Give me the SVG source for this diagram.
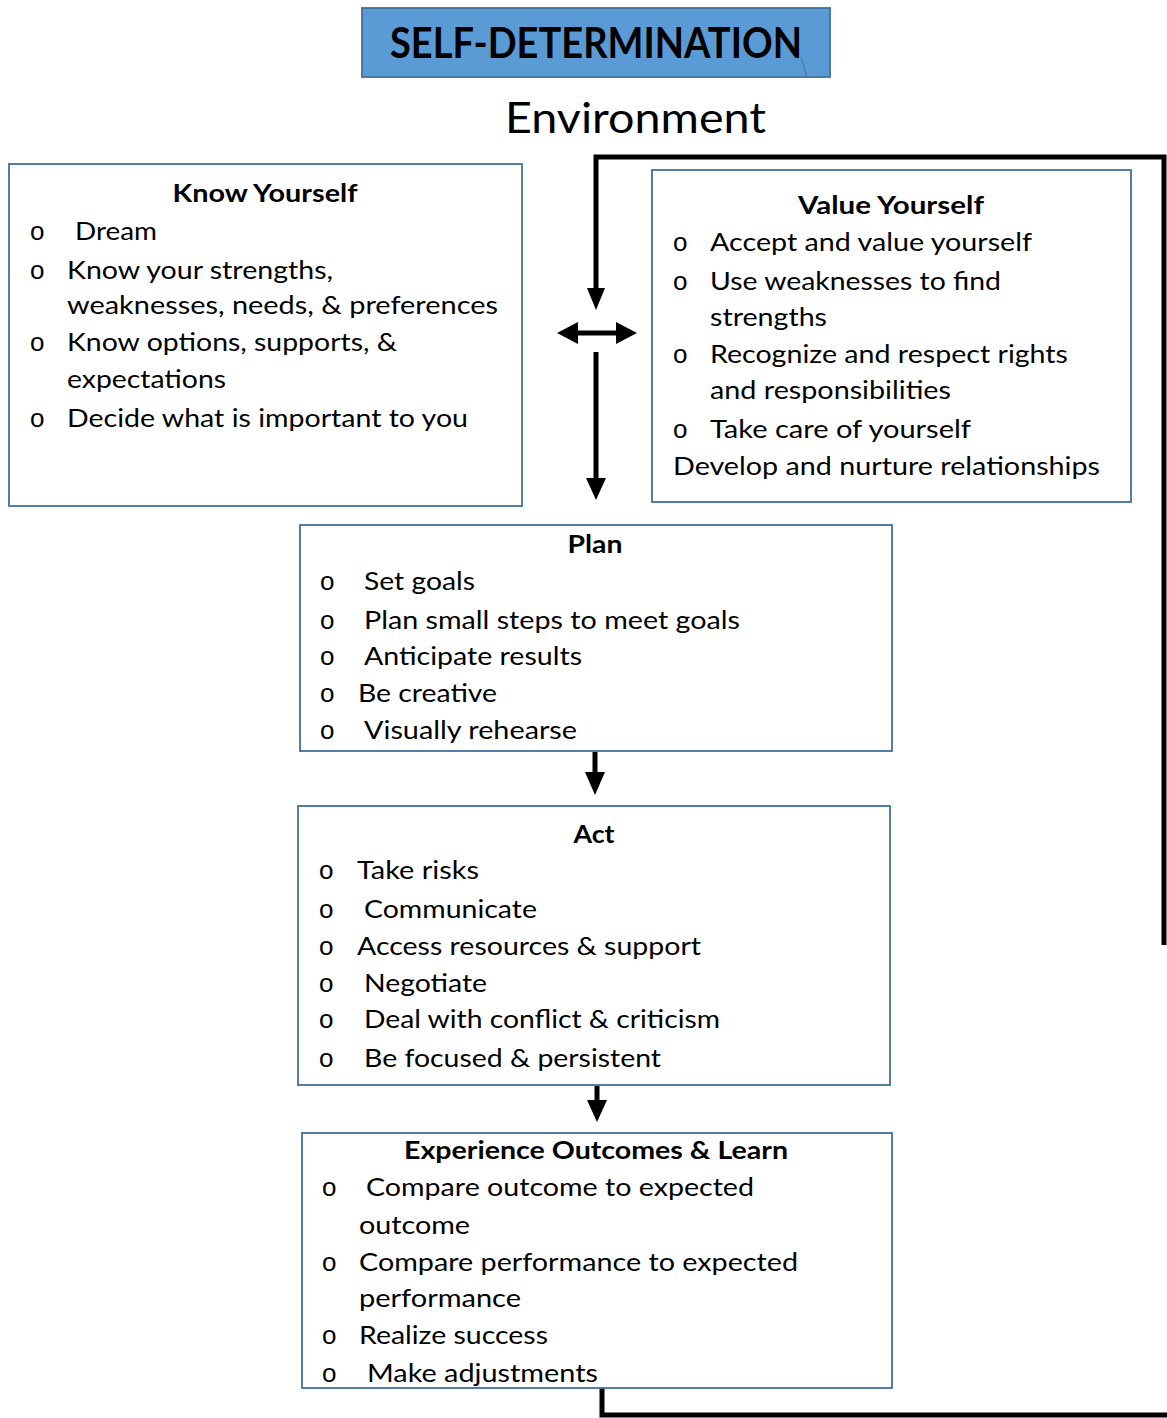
<svg xmlns="http://www.w3.org/2000/svg" width="1167" height="1418" viewBox="0 0 1167 1418">
<style>
.box{fill:#fff;stroke:#41719c;stroke-width:1.8}
.t{font-family:Lato,"Open Sans","Liberation Sans",sans-serif;font-size:25px;fill:#000}
.h{font-family:Lato,"Open Sans","Liberation Sans",sans-serif;font-size:25px;font-weight:bold;fill:#000;text-anchor:middle}
.b{font-family:"Liberation Sans",sans-serif;font-size:26px;fill:#000}
.ln{stroke:#000;stroke-width:5;fill:none}
</style>
<rect width="1167" height="1418" fill="#fff"/>

<g id="title">
<rect x="362" y="8" width="468" height="69" fill="#5b9bd5" stroke="#41719c" stroke-width="1.8"/>
<text x="390" y="58" font-family="Lato,'Open Sans','Liberation Sans',sans-serif" font-size="42" font-weight="bold" textLength="412" lengthAdjust="spacingAndGlyphs">SELF-DETERMINATION</text>
<line x1="801" y1="57" x2="807" y2="77" stroke="#41719c" stroke-width="1"/>
</g>

<g id="environment">
<text x="505" y="133" font-family="Lato,'Open Sans','Liberation Sans',sans-serif" font-size="42" textLength="261" lengthAdjust="spacingAndGlyphs">Environment</text>
</g>

<g id="connectors">
<polyline class="ln" points="1164,945 1164,157 596,157 596,290"/>
<path d="M587,288 L605,288 L596,310 z" fill="#000"/>
<line class="ln" x1="576" y1="333" x2="618" y2="333"/>
<path d="M578,322 L557,333 L578,344 z" fill="#000"/>
<path d="M616,322 L637,333 L616,344 z" fill="#000"/>
<line class="ln" x1="596" y1="352" x2="596" y2="480"/>
<path d="M586,478 L606,478 L596,500 z" fill="#000"/>
<line class="ln" x1="595" y1="752" x2="595" y2="774"/>
<path d="M585,772 L605,772 L595,795 z" fill="#000"/>
<line class="ln" x1="597" y1="1086" x2="597" y2="1102"/>
<path d="M587,1100 L607,1100 L597,1122 z" fill="#000"/>
<polyline class="ln" points="602,1388 602,1415 1167,1415"/>
</g>

<g id="know-yourself">
<rect class="box" x="9" y="164" width="513" height="342"/>
<text class="h" x="265" y="202" textLength="185" lengthAdjust="spacingAndGlyphs">Know Yourself</text>
<text class="b" x="30" y="240">o</text>
<text class="t" x="75" y="240" textLength="82" lengthAdjust="spacingAndGlyphs">Dream</text>
<text class="b" x="30" y="279">o</text>
<text class="t" x="67" y="279" textLength="266" lengthAdjust="spacingAndGlyphs">Know your strengths,</text>
<text class="t" x="67" y="314" textLength="431" lengthAdjust="spacingAndGlyphs">weaknesses, needs, &amp; preferences</text>
<text class="b" x="30" y="351">o</text>
<text class="t" x="67" y="351" textLength="330" lengthAdjust="spacingAndGlyphs">Know options, supports, &amp;</text>
<text class="t" x="67" y="388" textLength="159" lengthAdjust="spacingAndGlyphs">expectations</text>
<text class="b" x="30" y="427">o</text>
<text class="t" x="67" y="427" textLength="401" lengthAdjust="spacingAndGlyphs">Decide what is important to you</text>
</g>

<g id="value-yourself">
<rect class="box" x="652" y="170" width="479" height="332"/>
<text class="h" x="891" y="214" textLength="186" lengthAdjust="spacingAndGlyphs">Value Yourself</text>
<text class="b" x="673" y="251">o</text>
<text class="t" x="710" y="251" textLength="322" lengthAdjust="spacingAndGlyphs">Accept and value yourself</text>
<text class="b" x="673" y="290">o</text>
<text class="t" x="710" y="290" textLength="291" lengthAdjust="spacingAndGlyphs">Use weaknesses to find</text>
<text class="t" x="710" y="326" textLength="117" lengthAdjust="spacingAndGlyphs">strengths</text>
<text class="b" x="673" y="363">o</text>
<text class="t" x="710" y="363" textLength="358" lengthAdjust="spacingAndGlyphs">Recognize and respect rights</text>
<text class="t" x="710" y="399" textLength="241" lengthAdjust="spacingAndGlyphs">and responsibilities</text>
<text class="b" x="673" y="438">o</text>
<text class="t" x="710" y="438" textLength="261" lengthAdjust="spacingAndGlyphs">Take care of yourself</text>
<text class="t" x="673" y="475" textLength="427" lengthAdjust="spacingAndGlyphs">Develop and nurture relationships</text>
</g>

<g id="plan">
<rect class="box" x="300" y="525" width="592" height="226"/>
<text class="h" x="595" y="553" textLength="55" lengthAdjust="spacingAndGlyphs">Plan</text>
<text class="b" x="320" y="590">o</text>
<text class="t" x="364" y="590" textLength="111" lengthAdjust="spacingAndGlyphs">Set goals</text>
<text class="b" x="320" y="629">o</text>
<text class="t" x="364" y="629" textLength="376" lengthAdjust="spacingAndGlyphs">Plan small steps to meet goals</text>
<text class="b" x="320" y="665">o</text>
<text class="t" x="364" y="665" textLength="218" lengthAdjust="spacingAndGlyphs">Anticipate results</text>
<text class="b" x="320" y="702">o</text>
<text class="t" x="358" y="702" textLength="139" lengthAdjust="spacingAndGlyphs">Be creative</text>
<text class="b" x="320" y="739">o</text>
<text class="t" x="364" y="739" textLength="213" lengthAdjust="spacingAndGlyphs">Visually rehearse</text>
</g>

<g id="act">
<rect class="box" x="298" y="806" width="592" height="279"/>
<text class="h" x="594" y="843" textLength="41" lengthAdjust="spacingAndGlyphs">Act</text>
<text class="b" x="319" y="879">o</text>
<text class="t" x="357" y="879" textLength="122" lengthAdjust="spacingAndGlyphs">Take risks</text>
<text class="b" x="319" y="918">o</text>
<text class="t" x="364" y="918" textLength="173" lengthAdjust="spacingAndGlyphs">Communicate</text>
<text class="b" x="319" y="955">o</text>
<text class="t" x="357" y="955" textLength="344" lengthAdjust="spacingAndGlyphs">Access resources &amp; support</text>
<text class="b" x="319" y="992">o</text>
<text class="t" x="364" y="992" textLength="123" lengthAdjust="spacingAndGlyphs">Negotiate</text>
<text class="b" x="319" y="1028">o</text>
<text class="t" x="364" y="1028" textLength="356" lengthAdjust="spacingAndGlyphs">Deal with conflict &amp; criticism</text>
<text class="b" x="319" y="1067">o</text>
<text class="t" x="364" y="1067" textLength="297" lengthAdjust="spacingAndGlyphs">Be focused &amp; persistent</text>
</g>

<g id="experience">
<rect class="box" x="302" y="1133" width="590" height="255"/>
<text class="h" x="596" y="1159" textLength="384" lengthAdjust="spacingAndGlyphs">Experience Outcomes &amp; Learn</text>
<text class="b" x="322" y="1196">o</text>
<text class="t" x="366" y="1196" textLength="388" lengthAdjust="spacingAndGlyphs">Compare outcome to expected</text>
<text class="t" x="359" y="1234" textLength="111" lengthAdjust="spacingAndGlyphs">outcome</text>
<text class="b" x="322" y="1271">o</text>
<text class="t" x="359" y="1271" textLength="439" lengthAdjust="spacingAndGlyphs">Compare performance to expected</text>
<text class="t" x="359" y="1307" textLength="162" lengthAdjust="spacingAndGlyphs">performance</text>
<text class="b" x="322" y="1344">o</text>
<text class="t" x="359" y="1344" textLength="189" lengthAdjust="spacingAndGlyphs">Realize success</text>
<text class="b" x="322" y="1382">o</text>
<text class="t" x="367" y="1382" textLength="231" lengthAdjust="spacingAndGlyphs">Make adjustments</text>
</g>
</svg>
